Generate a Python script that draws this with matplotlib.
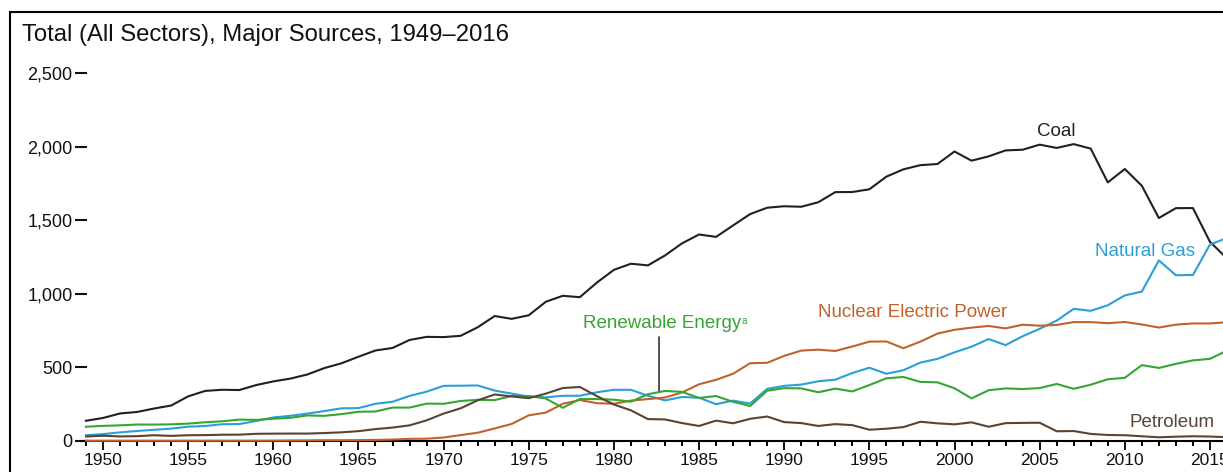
import matplotlib
matplotlib.use("Agg")
import matplotlib.pyplot as plt
from matplotlib.patches import Rectangle
from matplotlib.ticker import FuncFormatter, MultipleLocator

plt.rcParams['font.family'] = ['Liberation Sans', 'DejaVu Sans']

# net generation, billion kWh, 1949-2016
years = list(range(1949, 2017))

coal = [135.5, 154.5, 185.2, 195.4, 218.8, 239.1, 301.4, 338.5, 346.4, 344.4,
        378.4, 403.1, 422.2, 450.2, 493.9, 526.2, 570.9, 613.5, 630.5, 684.9,
        706.0, 704.4, 713.1, 771.1, 847.7, 828.4, 852.8, 944.4, 985.2, 975.7,
        1075.0, 1161.6, 1203.2, 1192.0, 1259.4, 1341.7, 1402.1, 1385.8, 1463.8, 1540.7,
        1584.1, 1594.0, 1590.6, 1621.2, 1690.1, 1690.7, 1709.4, 1795.2, 1845.0, 1873.5,
        1881.1, 1966.3, 1903.9, 1933.1, 1973.7, 1978.3, 2012.9, 1990.5, 2016.5, 1985.8,
        1755.9, 1847.3, 1733.4, 1514.0, 1581.1, 1581.7, 1352.4, 1239.1]

natural_gas = [37.0, 44.6, 56.7, 66.1, 74.0, 82.0, 95.3, 100.0, 112.0, 113.0,
               134.0, 158.0, 169.3, 184.3, 201.6, 220.0, 221.6, 251.2, 264.8, 304.4,
               333.3, 372.9, 374.0, 375.7, 340.9, 320.1, 299.8, 294.6, 305.5, 305.4,
               329.5, 346.2, 345.8, 305.3, 274.1, 297.4, 291.9, 248.5, 272.6, 252.8,
               352.6, 372.8, 381.6, 404.1, 414.9, 460.2, 496.1, 455.1, 479.4, 531.3,
               556.4, 601.0, 639.1, 691.0, 649.9, 710.1, 761.0, 816.4, 896.6, 883.0,
               921.0, 987.7, 1013.7, 1225.9, 1124.8, 1126.6, 1333.5, 1378.3]

nuclear = [0, 0, 0, 0, 0, 0, 0, 0, 0.01, 0.2,
           0.2, 0.5, 1.7, 2.3, 3.2, 3.3, 3.7, 5.5, 7.7, 12.5,
           13.9, 21.8, 38.1, 54.1, 83.5, 114.0, 172.5, 191.1, 250.9, 276.4,
           255.2, 251.1, 272.7, 282.8, 293.7, 327.6, 383.7, 414.0, 455.3, 527.0,
           529.4, 576.9, 612.6, 618.8, 610.3, 640.4, 673.4, 674.7, 628.6, 673.7,
           728.3, 753.9, 768.8, 780.1, 763.7, 788.5, 782.0, 787.2, 806.4, 806.2,
           798.9, 807.0, 790.2, 769.3, 789.0, 797.2, 797.2, 805.7]

renewable = [94.8, 100.9, 104.4, 110.0, 109.6, 111.3, 116.2, 125.4, 132.0, 143.5,
             141.6, 149.4, 155.5, 171.7, 169.0, 180.7, 196.6, 198.6, 225.2, 225.1,
             252.0, 251.1, 269.9, 277.8, 275.9, 304.1, 303.2, 286.9, 223.7, 283.1,
             283.0, 279.0, 265.4, 316.1, 338.2, 332.3, 290.5, 303.7, 264.0, 236.0,
             339.7, 357.2, 355.7, 329.4, 354.2, 335.0, 378.3, 424.0, 433.4, 399.6,
             396.7, 356.5, 287.6, 343.0, 355.3, 351.5, 357.7, 385.8, 352.7, 380.9,
             417.7, 427.4, 513.8, 494.6, 522.5, 546.0, 556.5, 612.4]

petroleum = [28.5, 33.7, 29.0, 30.8, 37.1, 32.9, 37.1, 38.0, 40.6, 41.0,
             46.9, 48.0, 48.5, 48.4, 52.0, 57.0, 64.8, 78.9, 89.3, 104.3,
             138.3, 184.2, 220.2, 274.3, 314.3, 300.9, 289.1, 320.0, 358.2, 365.1,
             303.5, 246.0, 206.4, 146.8, 144.5, 119.8, 100.2, 136.6, 118.5, 148.9,
             164.4, 126.5, 119.8, 100.2, 112.8, 105.9, 74.6, 81.4, 92.6, 128.8,
             118.1, 111.2, 124.9, 94.6, 119.4, 121.1, 122.2, 64.2, 65.7, 46.2,
             38.9, 37.1, 30.2, 23.2, 27.2, 30.2, 28.2, 24.2]

C_COAL = '#231f20'
C_GAS = '#2a9fd8'
C_NUC = '#c0622a'
C_REN = '#36a532'
C_PET = '#5b4332'

W, H = 1223, 472
fig = plt.figure(figsize=(W / 100, H / 100), dpi=100)

# axes placed in pixels, right side runs past the figure edge (cropped like the source)
left_px, right_px, top_px, bot_px = 81, 1240, 73, 440.7
ax = fig.add_axes([left_px / W, (H - bot_px) / H,
                   (right_px - left_px) / W, (bot_px - top_px) / H])

for ys, col in [(coal, C_COAL), (natural_gas, C_GAS), (nuclear, C_NUC),
                (renewable, C_REN), (petroleum, C_PET)]:
    ax.plot(years, ys, color=col, lw=1.5, clip_on=False, zorder=3)

px_per_year = 17.03
ax.set_xlim(1950 + (left_px - 103) / px_per_year, 1950 + (right_px - 103) / px_per_year)
ax.set_ylim(0, 2500)

for s in ['top', 'right', 'left']:
    ax.spines[s].set_visible(False)
ax.spines['bottom'].set_linewidth(1.5)

ax.xaxis.set_major_locator(MultipleLocator(5))
ax.xaxis.set_minor_locator(MultipleLocator(1))
ax.set_yticks([0, 500, 1000, 1500, 2000, 2500])
ax.yaxis.set_major_formatter(FuncFormatter(lambda v, p: f'{int(v):,}'))

ax.tick_params(axis='x', which='major', direction='out', length=6.5, width=1.4,
               pad=2.2, labelsize=12.5, colors='#111111')
ax.tick_params(axis='x', which='minor', direction='out', length=3.6, width=1.4)
ax.tick_params(axis='y', which='major', direction='inout', length=9, width=1.5,
               pad=1.5, labelsize=13, colors='#111111')

# series labels
fs = 13.5
ax.text(2006.0, 2100, 'Coal', color=C_COAL, fontsize=fs, ha='center', va='center')
ax.text(2008.25, 1283, 'Natural Gas', color=C_GAS, fontsize=fs, ha='left', va='center')
ax.text(1992.0, 875, 'Nuclear Electric Power', color=C_NUC, fontsize=fs, ha='left', va='center')
ren = ax.text(1978.2, 800, 'Renewable Energy', color=C_REN, fontsize=fs, ha='left', va='center')
ax.annotate('a', xy=(1.0, 0.9), xycoords=ren, color=C_REN, fontsize=7,
            ha='left', va='top')
ax.text(2010.3, 127, 'Petroleum', color=C_PET, fontsize=fs, ha='left', va='center')
ax.annotate('', xy=(1982.65, 340), xytext=(1982.65, 705),
            arrowprops=dict(arrowstyle='-', color='#333333', lw=1.2,
                            shrinkA=0, shrinkB=0))

# frame of the source panel (only left and top edges are visible in the crop)
fig.patches.append(Rectangle((10 / W, -0.1), 1.2, 1.1 - 12 / H, transform=fig.transFigure,
                             fill=False, ec='black', lw=1.5))

fig.text(22 / W, 1 - 35 / H, 'Total (All Sectors), Major Sources, 1949\u20132016',
         fontsize=17.2, color='#111111', ha='left', va='center')

fig.savefig('out.png', dpi=100)
